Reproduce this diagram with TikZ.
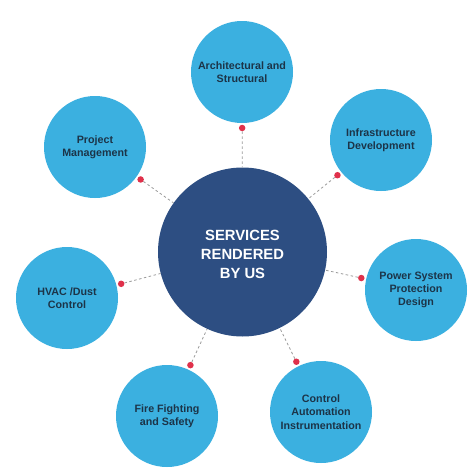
\documentclass[tikz,border=0pt]{standalone}
\usepackage{fontspec}
\setmainfont{Liberation Sans}
\usetikzlibrary{calc}
\definecolor{lblue}{HTML}{3BB0E0}
\definecolor{dblue}{HTML}{2D4E82}
\definecolor{dotred}{HTML}{E0314B}
\definecolor{txt}{HTML}{1C3448}
\definecolor{dashgray}{HTML}{9A9A9A}
\begin{document}
\begin{tikzpicture}[x=1pt,y=-1pt,
  outer/.style={circle,fill=lblue,minimum size=102pt,inner sep=0pt,align=center,
    text=txt,font=\fontsize{10.7}{13.3}\selectfont\bfseries},
  hub/.style={circle,fill=dblue,minimum size=169pt,inner sep=0pt,align=center,
    text=white,font=\fontsize{14.8}{19}\selectfont\bfseries},
  reddot/.style={circle,fill=dotred,minimum size=6.5pt,inner sep=0pt},
  link/.style={draw=dashgray,dash pattern=on 2.5pt off 2.5pt,line width=0.8pt}]
\useasboundingbox (0,0) rectangle (474,474);
\fill[white] (0,0) rectangle (474,474);
\node[hub] (c) at (242.5,252) {};
\node[align=center,text=white,font=\fontsize{14.8}{19}\selectfont\bfseries] (ct) at (242.5,254) {SERVICES\\RENDERED\\BY US};
\node[outer] (a) at (242,72) {Architectural and\\Structural};
\node[outer] (b) at (381,140) {Infrastructure\\Development};
\node[outer] (p) at (416,290) {Power System\\Protection\\Design};
\node[outer] (ca) at (321,412) {Control\\Automation\\Instrumentation};
\node[outer] (f) at (167,416) {Fire Fighting\\and Safety};
\node[outer] (h) at (67,298) {HVAC /Dust\\Control};
\node[outer] (pm) at (95,147) {Project\\Management};
\foreach \n in {a,b,p,ca,f,h,pm}{
  \node[reddot] (d\n) at ($(\n.center)!56pt!(c.center)$) {};
  \draw[link] (d\n) -- (c);
}
\end{tikzpicture}
\end{document}
